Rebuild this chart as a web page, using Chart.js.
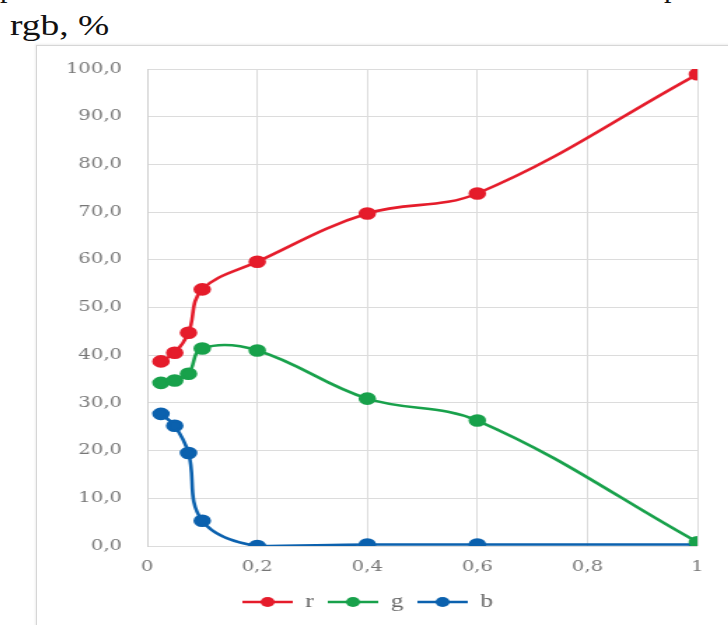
<!DOCTYPE html>
<html>
<head>
<meta charset="utf-8">
<script src="https://cdn.jsdelivr.net/npm/chart.js"></script>
<style>
  html, body { margin: 0; padding: 0; background: #fff; }
  body { width: 728px; height: 625px; position: relative; overflow: hidden; }
  .cut { position: absolute; top: -30px; font: 30px "Liberation Serif", serif; color: #111; }
  #unit { position: absolute; left: 10px; top: 8px; font: 30px "Liberation Serif", serif; color: #111;
          transform: scaleX(1.25); transform-origin: 0 0; white-space: nowrap; }
  #frame { position: absolute; left: 36px; top: 45px; width: 720px; height: 600px;
           border-left: 1px solid #d6d6d6; border-top: 1px solid #d6d6d6;
           box-shadow: -1px -1px 2px #eee; }
  #wrap { position: absolute; left: 38px; top: 45px; width: 493px; height: 580px;
          transform: scaleX(1.4); transform-origin: 0 0; }
</style>
</head>
<body>
<span class="cut" style="left:0px">р</span>
<span class="cut" style="left:664px">р</span>
<div id="unit">rgb, %</div>
<div id="frame"></div>
<div id="wrap"><canvas id="chart" width="493" height="580"></canvas></div>
<script>
const xs = [0.025, 0.05, 0.075, 0.1, 0.2, 0.4, 0.6, 1];
const rValues = [38.7, 40.5, 44.7, 53.8, 59.6, 69.7, 73.9, 98.9];
const gValues = [34.2, 34.7, 36.1, 41.4, 41.0, 30.9, 26.3, 0.8];
const bValues = [27.7, 25.2, 19.5, 5.3, 0.0, 0.3, 0.3, 0.3];
const seriesNames = ['r', 'g', 'b'];
const seriesColors = ['#e51c2b', '#18a14b', '#0b61ae'];

function pts(vals) {
  return xs.map((x, i) => ({ x: x, y: vals[i] }));
}

// legend marker: line with a dot in the middle, like Excel
function marker(color) {
  const c = document.createElement('canvas');
  c.width = 36; c.height = 12;
  const g = c.getContext('2d');
  g.strokeStyle = color; g.lineWidth = 2.5;
  g.beginPath(); g.moveTo(0, 6); g.lineTo(36, 6); g.stroke();
  g.fillStyle = color;
  g.beginPath(); g.arc(18, 6, 5, 0, Math.PI * 2); g.fill();
  return c;
}

const allValues = [rValues, gValues, bValues];
const datasets = seriesNames.map((name, i) => ({
  label: name,
  data: pts(allValues[i]),
  borderColor: seriesColors[i],
  backgroundColor: seriesColors[i],
  borderWidth: 2.6,
  pointRadius: 5,
  pointHoverRadius: 5,
  tension: 0.38
}));

const fontTicks = { family: 'DejaVu Serif', size: 14 };

new Chart(document.getElementById('chart'), {
  type: 'scatter',
  data: { datasets: datasets },
  options: {
    responsive: false,
    animation: false,
    showLine: true,
    layout: { padding: { top: 24, right: 22, left: 0, bottom: 4 } },
    scales: {
      x: {
        type: 'linear', min: 0, max: 1,
        grid: { color: '#dcdcdc', drawTicks: false },
        border: { display: false },
        ticks: {
          stepSize: 0.2, padding: 13, color: '#777', font: fontTicks,
          callback: v => {
            const r = Math.round(v * 10) / 10;
            return (r === 0 || r === 1) ? String(r) : r.toFixed(1).replace('.', ',');
          }
        },
        afterFit: s => { s.height = 37; }
      },
      y: {
        min: 0, max: 100,
        grid: { color: '#dcdcdc', drawTicks: false },
        border: { color: '#d0d0d0' },
        ticks: {
          stepSize: 10, padding: 18, color: '#777', font: fontTicks,
          callback: v => v.toFixed(1).replace('.', ',')
        },
        afterFit: s => { s.width = 78; s.paddingTop = 8; s.paddingBottom = 8; }
      }
    },
    plugins: {
      tooltip: { enabled: false },
      legend: {
        position: 'bottom',
        labels: {
          usePointStyle: true,
          pointStyleWidth: 36,
          padding: 10,
          color: '#666',
          font: { family: 'Liberation Serif', size: 18 },
          generateLabels: chart => chart.data.datasets.map((d, i) => ({
            text: d.label,
            fillStyle: d.borderColor,
            strokeStyle: d.borderColor,
            fontColor: '#666',
            pointStyle: marker(d.borderColor),
            lineWidth: 0,
            datasetIndex: i
          }))
        }
      }
    }
  }
});
</script>
</body>
</html>
